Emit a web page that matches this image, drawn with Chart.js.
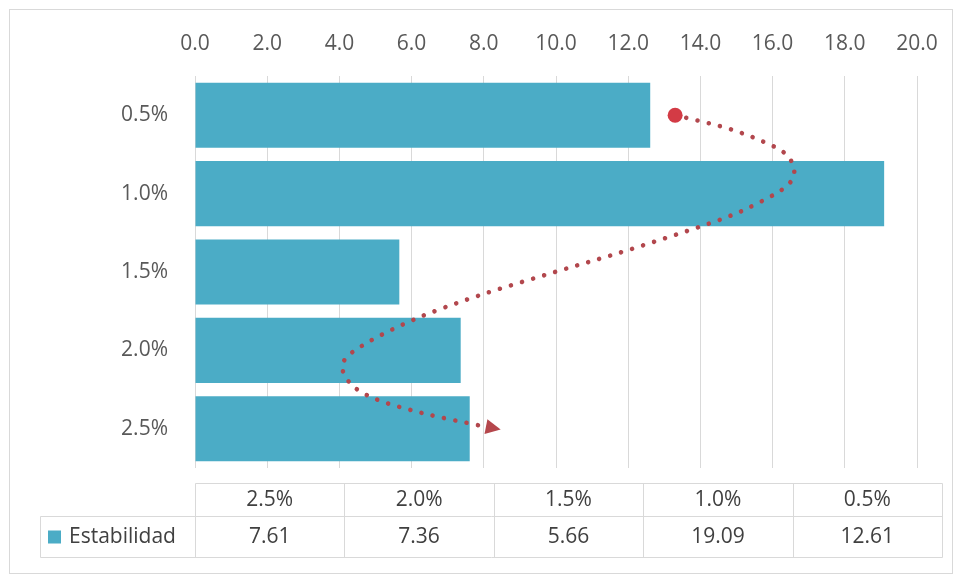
<!DOCTYPE html>
<html>
<head>
<meta charset="utf-8">
<script src="https://cdn.jsdelivr.net/npm/chart.js@4/dist/chart.umd.min.js"></script>
<style>
  html, body { margin: 0; padding: 0; background: #ffffff; }
  #wrap { width: 958px; height: 583px; }
</style>
</head>
<body>
<div id="wrap"><canvas id="c" width="958" height="583"></canvas></div>
<script>
// Categories (vertical axis, top to bottom) and the Estabilidad series
const categories = ['0.5%', '1.0%', '1.5%', '2.0%', '2.5%'];
const estabilidad = [12.61, 19.09, 5.66, 7.36, 7.61];
const seriesName = 'Estabilidad';

// Value axis ticks
const xMin = 0;
const xMax = 20;
const xStep = 2;

// Curved dotted arrow, given in data units: [value, category index]
const arrowPath = [
  [13.3, 0.0], [14.7, 0.16], [15.7, 0.33], [16.35, 0.49], [16.6, 0.7],
  [16.4, 0.9], [15.6, 1.12], [14.5, 1.34], [12.0, 1.72], [9.9, 2.01],
  [7.8, 2.31], [6.1, 2.6], [4.7, 2.92], [4.1, 3.16], [4.3, 3.42],
  [5.0, 3.62], [6.3, 3.8], [7.7, 3.94], [8.25, 3.99]
];

const BAR = '#4BACC6';
const GRID = '#d9d9d9';
const FONT = '"Open Sans", Lato, sans-serif';
const FONT_SIZE = 21;

// White background and thin outer frame
const framePlugin = {
  id: 'frame',
  beforeDraw(chart) {
    const ctx = chart.ctx;
    ctx.save();
    ctx.fillStyle = '#ffffff';
    ctx.fillRect(0, 0, chart.width, chart.height);
    ctx.strokeStyle = '#d9d9d9';
    ctx.lineWidth = 1;
    ctx.strokeRect(9.5, 9.5, chart.width - 15, chart.height - 19);
    ctx.restore();
  }
};

// Data table under the plot (categories in reverse order, as listed in the table)
const tablePlugin = {
  id: 'dataTable',
  afterDraw(chart) {
    const ctx = chart.ctx;
    const area = chart.chartArea;
    const left = area.left;
    const right = chart.width - 16;
    const top = area.bottom + 15;
    const mid = top + 33;
    const bottom = mid + 41;
    const legendLeft = 40;
    const cols = categories.length;
    const colW = (right - left) / cols;
    const order = categories.map((_, i) => cols - 1 - i);

    ctx.save();
    ctx.strokeStyle = GRID;
    ctx.lineWidth = 1;
    const px = v => Math.round(v) + 0.5;
    ctx.beginPath();
    ctx.moveTo(px(left), px(top)); ctx.lineTo(px(right), px(top));
    ctx.moveTo(px(legendLeft), px(mid)); ctx.lineTo(px(right), px(mid));
    ctx.moveTo(px(legendLeft), px(bottom)); ctx.lineTo(px(right), px(bottom));
    ctx.moveTo(px(legendLeft), px(mid)); ctx.lineTo(px(legendLeft), px(bottom));
    for (let i = 0; i <= cols; i++) {
      const x = px(left + i * colW);
      ctx.moveTo(x, px(top)); ctx.lineTo(x, px(bottom));
    }
    ctx.stroke();

    ctx.fillStyle = '#404040';
    ctx.font = FONT_SIZE + 'px ' + FONT;
    ctx.textAlign = 'center';
    ctx.textBaseline = 'middle';
    order.forEach((idx, i) => {
      const cx = left + (i + 0.5) * colW;
      ctx.fillText(categories[idx], cx, (top + mid) / 2 + 1);
      ctx.fillText(estabilidad[idx].toFixed(2), cx, (mid + bottom) / 2 + 1);
    });

    // legend key
    ctx.fillStyle = BAR;
    ctx.fillRect(48, (mid + bottom) / 2 - 6, 13, 13);
    ctx.fillStyle = '#404040';
    ctx.textAlign = 'left';
    ctx.fillText(seriesName, 69, (mid + bottom) / 2 + 1);
    ctx.restore();
  }
};

// Smooth dotted arrow drawn through the chart's own scales
const arrowPlugin = {
  id: 'curvedArrow',
  afterDatasetsDraw(chart) {
    const xs = chart.scales.x;
    const ys = chart.scales.y;
    const pts = arrowPath.map(([v, c]) => [xs.getPixelForValue(v), ys.getPixelForValue(c)]);
    const ctx = chart.ctx;
    ctx.save();

    // Catmull-Rom through the points
    ctx.beginPath();
    ctx.moveTo(pts[0][0], pts[0][1]);
    for (let i = 0; i < pts.length - 1; i++) {
      const p0 = pts[Math.max(0, i - 1)];
      const p1 = pts[i];
      const p2 = pts[i + 1];
      const p3 = pts[Math.min(pts.length - 1, i + 2)];
      const c1x = p1[0] + (p2[0] - p0[0]) / 6;
      const c1y = p1[1] + (p2[1] - p0[1]) / 6;
      const c2x = p2[0] - (p3[0] - p1[0]) / 6;
      const c2y = p2[1] - (p3[1] - p1[1]) / 6;
      ctx.bezierCurveTo(c1x, c1y, c2x, c2y, p2[0], p2[1]);
    }
    ctx.strokeStyle = '#b2474d';
    ctx.lineWidth = 4.6;
    ctx.lineCap = 'round';
    ctx.setLineDash([0.01, 11.5]);
    ctx.stroke();
    ctx.setLineDash([]);

    // start dot
    ctx.fillStyle = '#d33b45';
    ctx.beginPath();
    ctx.arc(pts[0][0], pts[0][1], 7.5, 0, Math.PI * 2);
    ctx.fill();

    // arrow head
    const a = pts[pts.length - 2];
    const b = pts[pts.length - 1];
    const ang = Math.atan2(b[1] - a[1], b[0] - a[0]);
    const tipX = b[0] + Math.cos(ang) * 8;
    const tipY = b[1] + Math.sin(ang) * 8;
    const len = 15, half = 7.5;
    ctx.fillStyle = '#b5474c';
    ctx.beginPath();
    ctx.moveTo(tipX, tipY);
    ctx.lineTo(tipX - len * Math.cos(ang) + half * Math.sin(ang), tipY - len * Math.sin(ang) - half * Math.cos(ang));
    ctx.lineTo(tipX - len * Math.cos(ang) - half * Math.sin(ang), tipY - len * Math.sin(ang) + half * Math.cos(ang));
    ctx.closePath();
    ctx.fill();
    ctx.restore();
  }
};

new Chart(document.getElementById('c'), {
  type: 'bar',
  data: {
    labels: categories,
    datasets: [{
      label: seriesName,
      data: estabilidad,
      backgroundColor: BAR,
      borderWidth: 0,
      barPercentage: 0.83,
      categoryPercentage: 1.0
    }]
  },
  options: {
    indexAxis: 'y',
    responsive: false,
    animation: false,
    events: [],
    layout: { padding: { top: 0, left: 0, right: 41, bottom: 115 } },
    plugins: {
      legend: { display: false },
      tooltip: { enabled: false }
    },
    scales: {
      x: {
        position: 'top',
        min: xMin,
        max: xMax,
        border: { display: false },
        grid: { color: GRID, lineWidth: 1, drawTicks: false },
        ticks: {
          stepSize: xStep,
          padding: 19,
          color: '#595959',
          font: { family: FONT, size: FONT_SIZE },
          callback: v => Number(v).toFixed(1)
        },
        afterFit(scale) { scale.height = 76; }
      },
      y: {
        border: { display: false },
        grid: { display: false, drawTicks: false },
        ticks: {
          padding: 27,
          color: '#595959',
          font: { family: FONT, size: FONT_SIZE }
        },
        afterFit(scale) { scale.width = 195; }
      }
    }
  },
  plugins: [framePlugin, arrowPlugin, tablePlugin]
});
</script>
</body>
</html>
